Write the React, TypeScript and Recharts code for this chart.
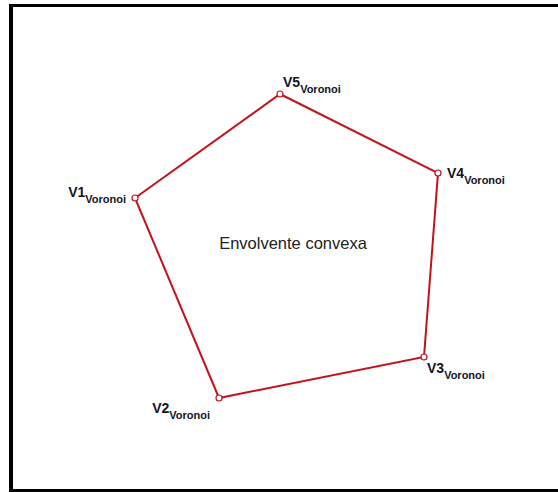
import React from "react";
import {
  ScatterChart,
  Scatter,
  XAxis,
  YAxis,
  ReferenceDot,
} from "recharts";

// Vertex names and positions (x right, y down, same units as the picture)
const vertexNames = ["V1", "V2", "V3", "V4", "V5"];
const vertexX = [135, 219, 424, 438, 280];
const vertexY = [198, 398, 357, 173, 94];
const subscript = "Voronoi";
const hullLabel = "Envolvente convexa";
const hullLabelPos = { x: 293, y: 243 };

// Where each label sits relative to its vertex
const labelOffsets: Record<string, { dx: number; dy: number; anchor: "start" | "end" }> = {
  V1: { dx: -9, dy: -1, anchor: "end" },
  V2: { dx: -9, dy: 15, anchor: "end" },
  V3: { dx: 3, dy: 16, anchor: "start" },
  V4: { dx: 9, dy: 5, anchor: "start" },
  V5: { dx: 3, dy: -7, anchor: "start" },
};

const RED = "#c4121a";
const FONT = "'Liberation Sans', Arial, sans-serif";

const vertices = vertexNames.map((name, i) => ({
  name,
  x: vertexX[i],
  y: vertexY[i],
}));
const loop = [...vertices, vertices[0]];

function VertexShape(props: any) {
  const { cx, cy, payload } = props;
  const off = labelOffsets[payload.name];
  return (
    <g>
      <circle cx={cx} cy={cy} r={3} fill="#fff" stroke={RED} strokeWidth={1.2} />
      <text
        x={cx + off.dx}
        y={cy + off.dy}
        textAnchor={off.anchor}
        fontFamily={FONT}
        fill="#14141f"
        fontWeight="bold"
      >
        <tspan fontSize={14}>{payload.name}</tspan>
        <tspan fontSize={11} dy={6}>
          {subscript}
        </tspan>
      </text>
    </g>
  );
}

export default function App() {
  return (
    <div
      style={{
        position: "absolute",
        left: 0,
        top: 0,
        width: 558,
        height: 492,
        background: "#fff",
      }}
    >
      <div
        style={{
          position: "absolute",
          left: 9,
          top: 4,
          width: 560,
          height: 488,
          boxSizing: "border-box",
          borderTop: "3px solid #000",
          borderLeft: "4px solid #000",
          borderBottom: "3px solid #000",
        }}
      />
      <div style={{ position: "absolute", left: 0, top: 0 }}>
        <ScatterChart
          width={558}
          height={492}
          margin={{ top: 0, right: 0, bottom: 0, left: 0 }}
        >
          <XAxis type="number" dataKey="x" domain={[0, 558]} hide />
          <YAxis type="number" dataKey="y" domain={[0, 492]} reversed hide />
          <Scatter
            data={loop}
            line={{ stroke: RED, strokeWidth: 2 }}
            shape={() => <g />}
            isAnimationActive={false}
          />
          <Scatter
            data={vertices}
            shape={VertexShape}
            isAnimationActive={false}
          />
          <ReferenceDot
            x={hullLabelPos.x}
            y={hullLabelPos.y}
            r={0}
            stroke="none"
            label={{
              value: hullLabel,
              position: "center",
              fill: "#222",
              fontSize: 16.5,
              fontFamily: FONT,
            }}
          />
        </ScatterChart>
      </div>
    </div>
  );
}
